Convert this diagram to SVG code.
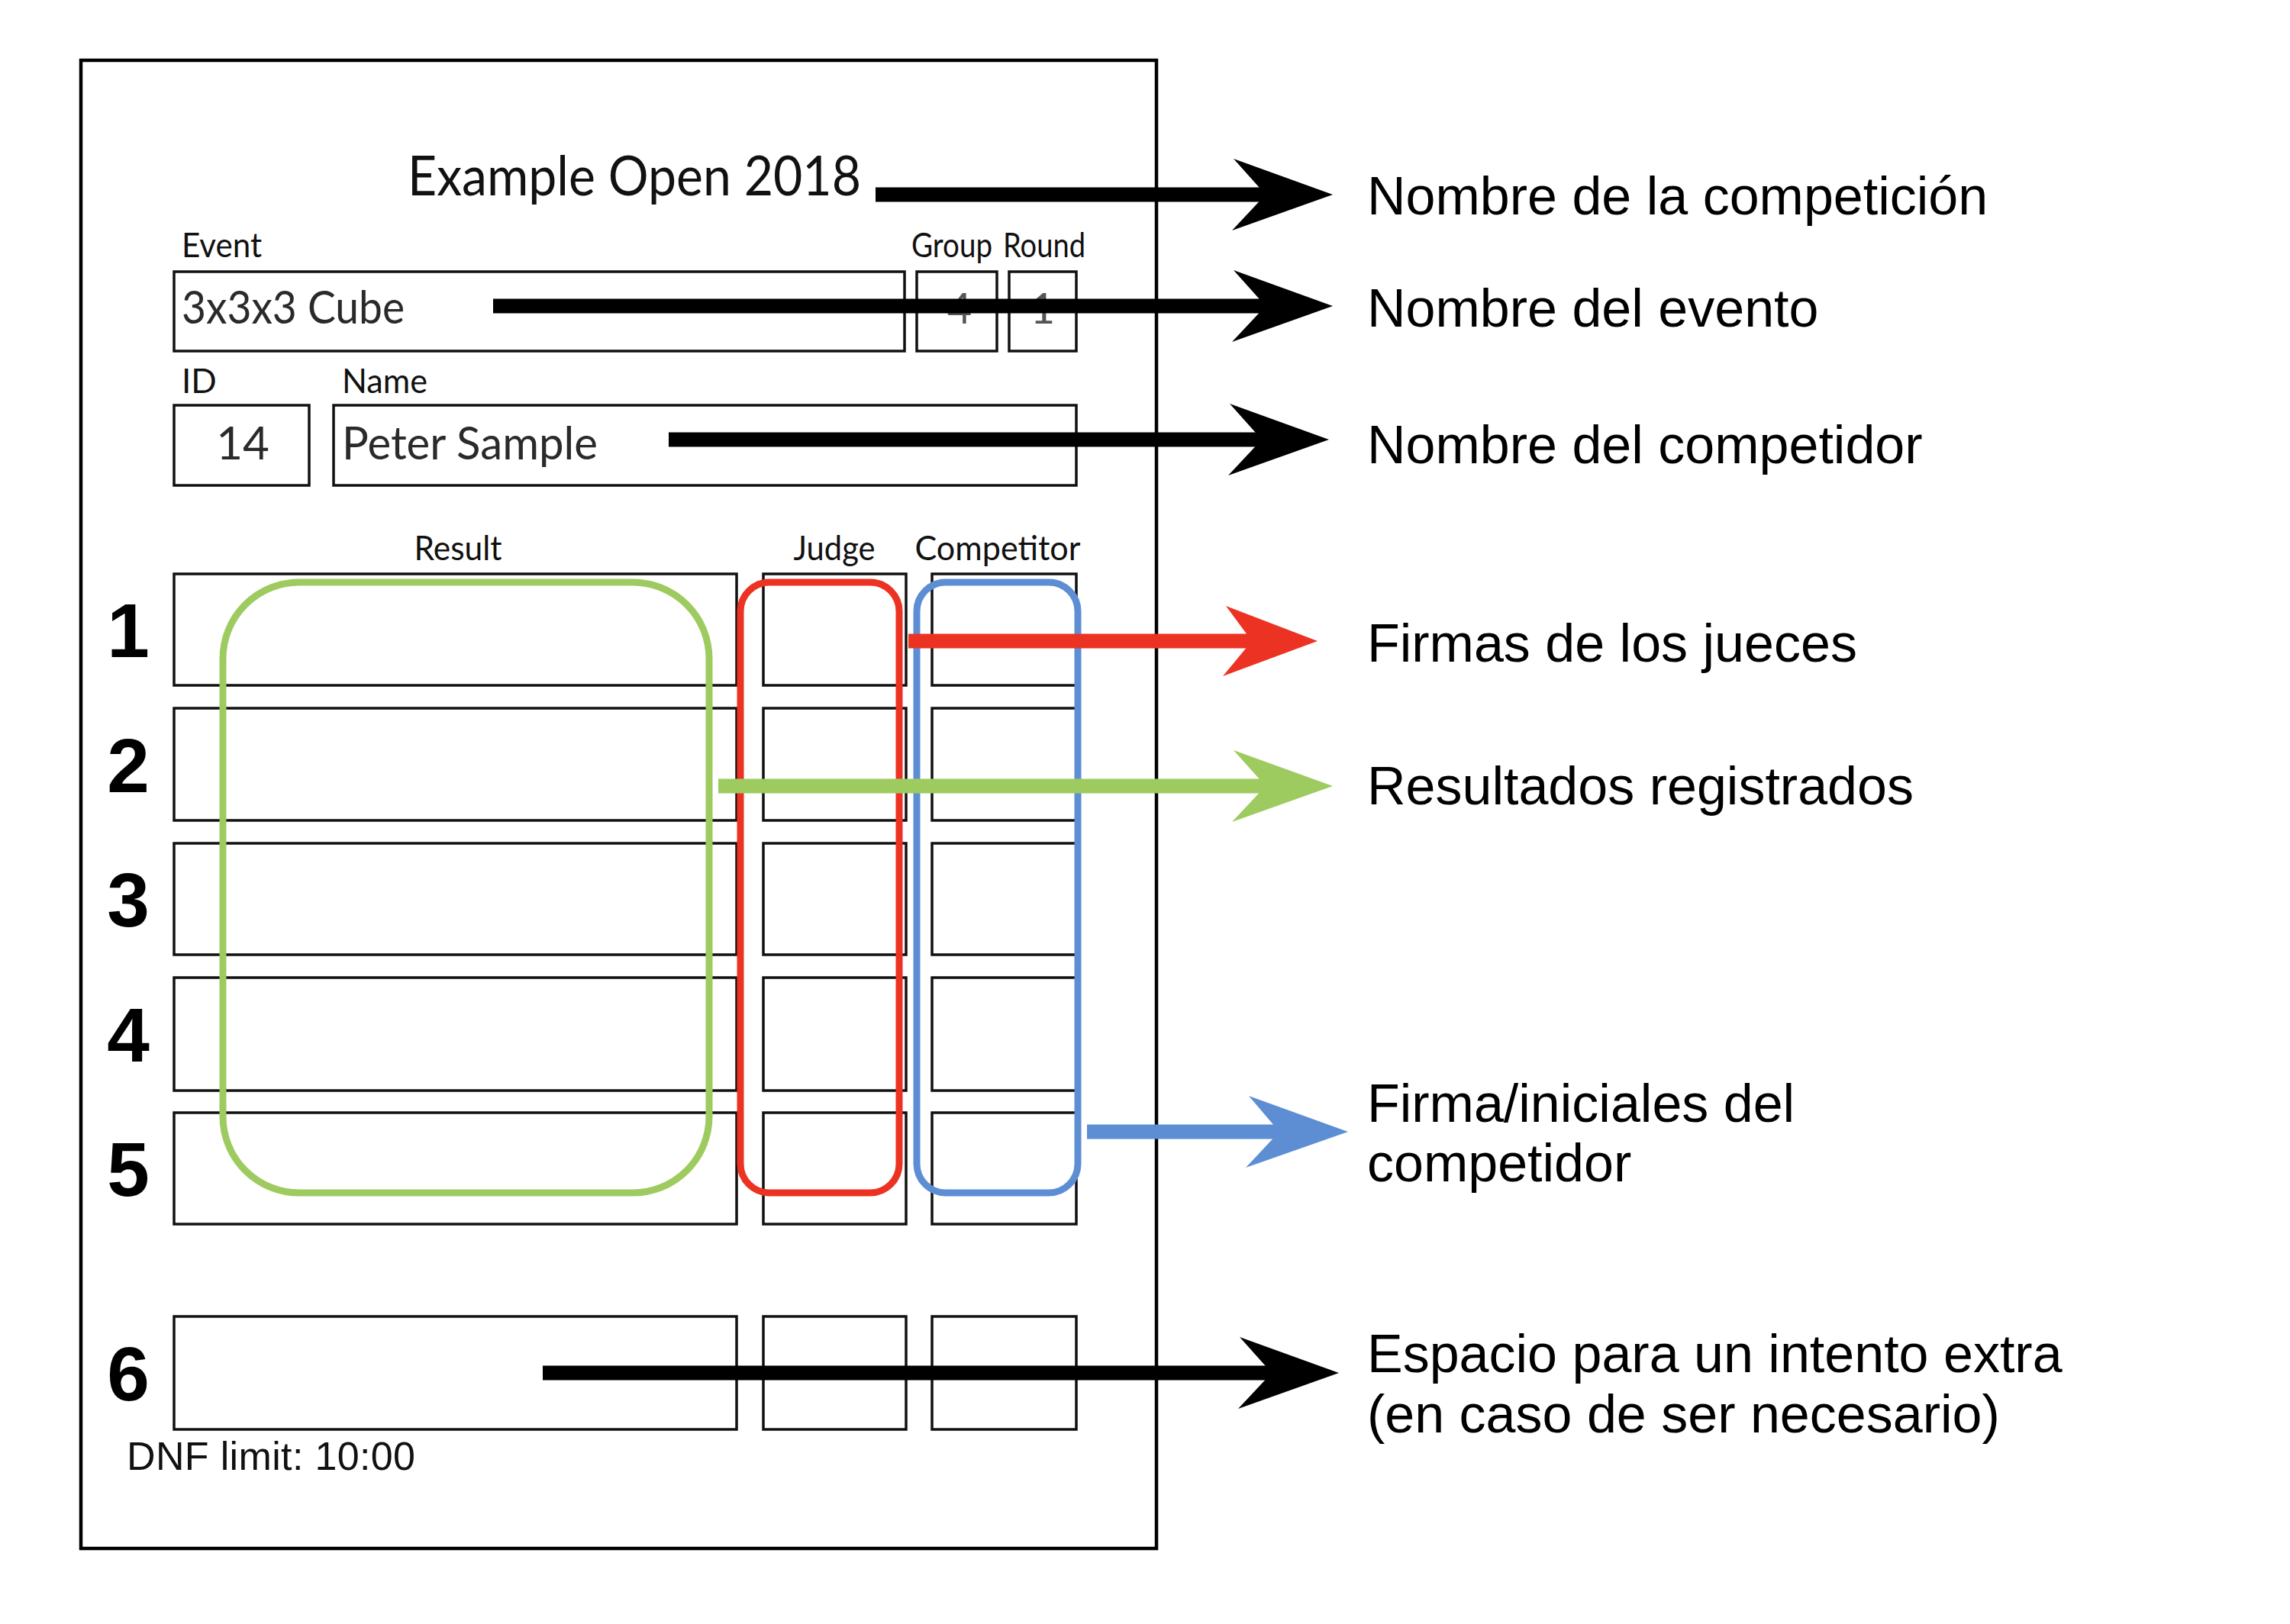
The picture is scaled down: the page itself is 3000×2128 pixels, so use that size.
<svg xmlns="http://www.w3.org/2000/svg" width="3000" height="2128" viewBox="0 0 3000 2128">
<style>
.bg{fill:#ffffff}
.frame{fill:none;stroke:#000;stroke-width:4.5}
.box{fill:none;stroke:#111;stroke-width:3.5}
.cal{font-family:Lato,"Open Sans","Liberation Sans",sans-serif;fill:#111}
.lab{font-size:44px}
.val{font-size:60px;fill:#2a2a2a}
.grey{font-size:56px;fill:#555}
.num{font-family:"Liberation Sans",Arial,sans-serif;font-weight:bold;font-size:100px;fill:#000;text-anchor:middle}
.dnf{font-family:"Liberation Sans",Arial,sans-serif;font-size:52px;fill:#111}
.note{font-family:"Liberation Sans",Arial,sans-serif;font-size:70px;fill:#000}
.hl{fill:none;stroke-width:9}
.sh{fill:none;stroke-width:19}
</style>
<defs>
<marker id="hBlack" markerUnits="userSpaceOnUse" viewBox="-80 -50 150 100" refX="0" refY="0" markerWidth="150" markerHeight="100" orient="auto" overflow="visible"><path d="M62,0 L-68,-47 L-26,0 L-70,47 Z" fill="#000"/></marker>
<marker id="hRed" markerUnits="userSpaceOnUse" viewBox="-80 -50 150 100" refX="0" refY="0" markerWidth="150" markerHeight="100" orient="auto" overflow="visible"><path d="M62,0 L-58,-46 L-24,0 L-62,46 Z" fill="#EC3323"/></marker>
<marker id="hGreen" markerUnits="userSpaceOnUse" viewBox="-80 -50 150 100" refX="0" refY="0" markerWidth="150" markerHeight="100" orient="auto" overflow="visible"><path d="M62,0 L-68,-47 L-26,0 L-70,47 Z" fill="#9ECB60"/></marker>
<marker id="hBlue" markerUnits="userSpaceOnUse" viewBox="-80 -50 150 100" refX="0" refY="0" markerWidth="150" markerHeight="100" orient="auto" overflow="visible"><path d="M62,0 L-68,-47 L-28,0 L-72,47 Z" fill="#5D8ED4"/></marker>
</defs>
<rect class="bg" x="0" y="0" width="3000" height="2128"/>

<g id="scorecard">
<rect class="frame" x="106" y="79" width="1409" height="1950"/>
<text class="cal" x="534" y="256" font-size="72" textLength="594" lengthAdjust="spacingAndGlyphs">Example Open 2018</text>
<text class="cal lab" x="238" y="337" textLength="105" lengthAdjust="spacingAndGlyphs">Event</text>
<text class="cal lab" x="1194" y="337" textLength="106" lengthAdjust="spacingAndGlyphs">Group</text>
<text class="cal lab" x="1314" y="337" textLength="108" lengthAdjust="spacingAndGlyphs">Round</text>
<rect class="box" x="228" y="356" width="957" height="104"/>
<rect class="box" x="1201" y="356" width="105" height="104"/>
<rect class="box" x="1322" y="356" width="88" height="104"/>
<text class="cal val" x="238" y="424" textLength="292" lengthAdjust="spacingAndGlyphs">3x3x3 Cube</text>
<text class="cal grey" x="1257" y="424" text-anchor="middle">4</text>
<text class="cal grey" x="1366" y="424" text-anchor="middle">1</text>
<text class="cal lab" x="238" y="515">ID</text>
<text class="cal lab" x="448" y="515" textLength="112" lengthAdjust="spacingAndGlyphs">Name</text>
<rect class="box" x="228" y="531" width="177" height="105"/>
<rect class="box" x="437" y="531" width="973" height="105"/>
<text class="cal val" x="318" y="602" text-anchor="middle">14</text>
<text class="cal val" x="448" y="602" textLength="335" lengthAdjust="spacingAndGlyphs">Peter Sample</text>
<text class="cal lab" x="600" y="734" text-anchor="middle" textLength="115" lengthAdjust="spacingAndGlyphs">Result</text>
<text class="cal lab" x="1093" y="734" text-anchor="middle" textLength="107" lengthAdjust="spacingAndGlyphs">Judge</text>
<text class="cal lab" x="1307" y="734" text-anchor="middle" textLength="217" lengthAdjust="spacingAndGlyphs">Competitor</text>

<g id="rows">
<rect class="box" x="228" y="752" width="737" height="146"/>
<rect class="box" x="1000" y="752" width="187" height="146"/>
<rect class="box" x="1221" y="752" width="189" height="146"/>
<rect class="box" x="228" y="928" width="737" height="147"/>
<rect class="box" x="1000" y="928" width="187" height="147"/>
<rect class="box" x="1221" y="928" width="189" height="147"/>
<rect class="box" x="228" y="1105" width="737" height="146"/>
<rect class="box" x="1000" y="1105" width="187" height="146"/>
<rect class="box" x="1221" y="1105" width="189" height="146"/>
<rect class="box" x="228" y="1281" width="737" height="148"/>
<rect class="box" x="1000" y="1281" width="187" height="148"/>
<rect class="box" x="1221" y="1281" width="189" height="148"/>
<rect class="box" x="228" y="1458" width="737" height="146"/>
<rect class="box" x="1000" y="1458" width="187" height="146"/>
<rect class="box" x="1221" y="1458" width="189" height="146"/>
<rect class="box" x="228" y="1725" width="737" height="148"/>
<rect class="box" x="1000" y="1725" width="187" height="148"/>
<rect class="box" x="1221" y="1725" width="189" height="148"/>
</g>
<text class="num" x="168" y="861">1</text>
<text class="num" x="168" y="1038">2</text>
<text class="num" x="168" y="1214">3</text>
<text class="num" x="168" y="1391">4</text>
<text class="num" x="168" y="1567">5</text>
<text class="num" x="168" y="1835">6</text>
<text class="dnf" x="166" y="1926" textLength="378" lengthAdjust="spacing">DNF limit: 10:00</text>
</g>

<g id="highlight-results"><rect class="hl" x="292" y="763" width="637" height="800" rx="100" ry="100" stroke="#9ECB60"/></g>
<g id="highlight-judge"><rect class="hl" x="970" y="763" width="208" height="800" rx="38" ry="38" stroke="#EC3323" stroke-width="8"/></g>
<g id="highlight-competitor"><rect class="hl" x="1201" y="763" width="211" height="800" rx="38" ry="38" stroke="#5D8ED4" stroke-width="8"/></g>

<g id="connectors">
<line class="sh" x1="1147" y1="255" x2="1684" y2="255" stroke="#000" marker-end="url(#hBlack)"/>
<line class="sh" x1="646" y1="401" x2="1684" y2="401" stroke="#000" marker-end="url(#hBlack)"/>
<line class="sh" x1="876" y1="576" x2="1679" y2="576" stroke="#000" marker-end="url(#hBlack)"/>
<line class="sh" x1="1190" y1="840" x2="1664" y2="840" stroke="#EC3323" stroke-width="18" marker-end="url(#hRed)"/>
<line class="sh" x1="941" y1="1030" x2="1684" y2="1030" stroke="#9ECB60" stroke-width="19" marker-end="url(#hGreen)"/>
<line class="sh" x1="1424" y1="1483" x2="1704" y2="1483" stroke="#5D8ED4" stroke-width="18" marker-end="url(#hBlue)"/>
<line class="sh" x1="711" y1="1799" x2="1692" y2="1799" stroke="#000" marker-end="url(#hBlack)"/>
</g>

<g id="label-competicion"><text class="note" x="1791" y="281">Nombre de la competición</text></g>
<g id="label-evento"><text class="note" x="1791" y="428">Nombre del evento</text></g>
<g id="label-competidor"><text class="note" x="1791" y="607">Nombre del competidor</text></g>
<g id="label-jueces"><text class="note" x="1791" y="867">Firmas de los jueces</text></g>
<g id="label-resultados"><text class="note" x="1791" y="1054">Resultados registrados</text></g>
<g id="label-firma"><text class="note" x="1791" y="1470">Firma/iniciales del</text><text class="note" x="1791" y="1548">competidor</text></g>
<g id="label-extra"><text class="note" x="1791" y="1798">Espacio para un intento extra</text><text class="note" x="1791" y="1877">(en caso de ser necesario)</text></g>
</svg>
